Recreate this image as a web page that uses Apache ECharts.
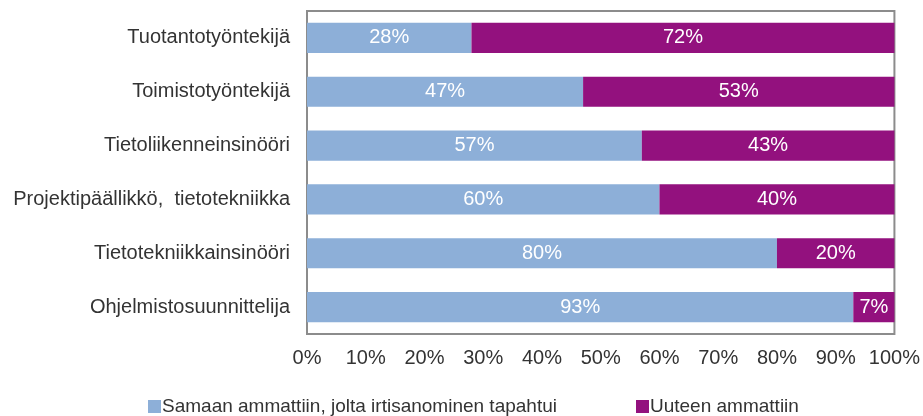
<!DOCTYPE html>
<html><head><meta charset="utf-8">
<script src="https://cdn.jsdelivr.net/npm/echarts@6/dist/echarts.min.js"></script>
<style>html,body{margin:0;padding:0;background:#fff}#c{width:923px;height:416px}</style>
</head><body><div id="c"></div>
<script>
const categories = ['Tuotantotyöntekijä','Toimistotyöntekijä','Tietoliikenneinsinööri','Projektipäällikkö,  tietotekniikka','Tietotekniikkainsinööri','Ohjelmistosuunnittelija'];
const sameJob = [28,47,57,60,80,93];
const newJob = [72,53,43,40,20,7];
const seriesNames = ['Samaan ammattiin, jolta irtisanominen tapahtui','Uuteen ammattiin'];
const FONT = 'Liberation Sans';
const chart = echarts.init(document.getElementById('c'));
const lbl = {show:true, position:'inside', color:'#fff', fontSize:20, fontFamily:FONT, formatter:p=>p.value+'%'};
chart.setOption({
  animation:false,
  grid:{left:307,right:26,top:11,bottom:82,show:true,borderColor:'#8c8c8c',borderWidth:2,backgroundColor:'#fff'},
  xAxis:{type:'value',min:0,max:100,interval:10,
    axisLabel:{formatter:'{value}%',color:'#333',fontSize:20,fontFamily:FONT,margin:14},
    splitLine:{show:false},axisLine:{show:false},axisTick:{show:false}},
  yAxis:{type:'category',data:categories,inverse:true,
    axisLabel:{color:'#333',fontSize:20,fontFamily:FONT,margin:17},
    axisLine:{show:false},axisTick:{show:false}},
  legend:{bottom:-5,left:143,itemWidth:13,itemHeight:13,itemGap:79,icon:'rect',
    textStyle:{color:'#333',fontSize:19,fontFamily:FONT,padding:[0,0,0,-4]}},
  series:[
    {name:seriesNames[0],type:'bar',stack:'a',data:sameJob,barWidth:'56%',itemStyle:{color:'#8dafd8'},label:lbl},
    {name:seriesNames[1],type:'bar',stack:'a',data:newJob,itemStyle:{color:'#93117e'},label:lbl}
  ]
});
</script></body></html>
